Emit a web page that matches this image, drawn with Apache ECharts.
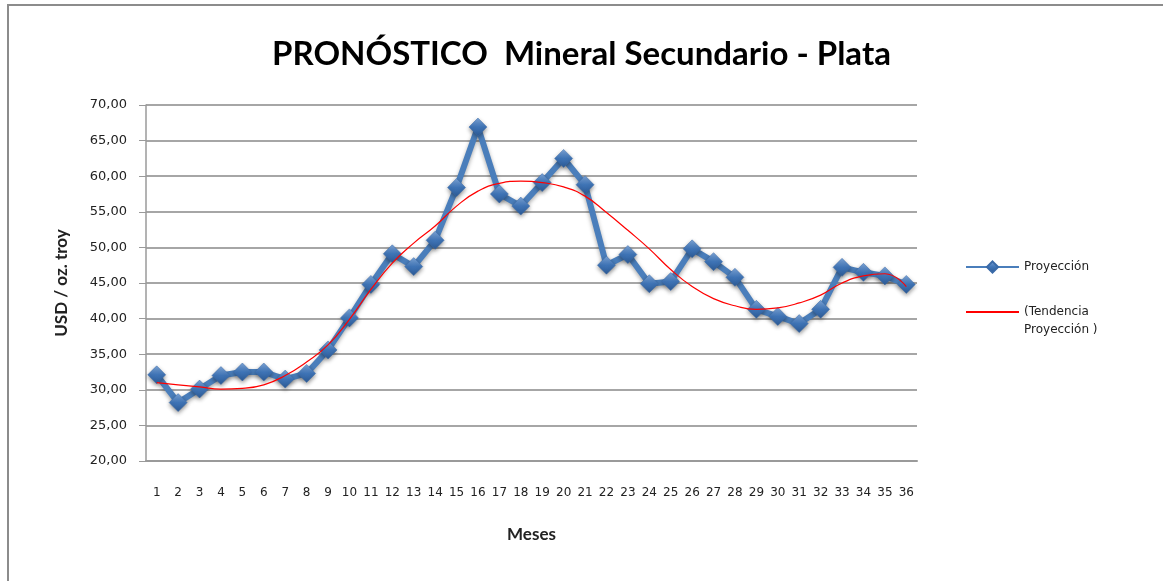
<!DOCTYPE html>
<html>
<head>
<meta charset="utf-8">
<script src="https://cdn.jsdelivr.net/npm/echarts@6/dist/echarts.min.js"></script>
<style>
  html, body { margin: 0; padding: 0; background: #fff; }
  #chart { width: 1163px; height: 581px; }
</style>
</head>
<body>
<div id="chart"></div>
<script>
// meses 1..36
var meses = [];
for (var i = 1; i <= 36; i++) meses.push(String(i));

// USD / oz. troy
var proyeccion = [
  32.1, 28.2, 30.1, 32.0, 32.5, 32.5, 31.5, 32.3, 35.6, 40.1,
  44.8, 49.1, 47.3, 51.0, 58.4, 66.9, 57.5, 55.8, 59.1, 62.5,
  58.8, 47.5, 49.0, 44.9, 45.2, 49.8, 48.0, 45.8, 41.3, 40.3,
  39.3, 41.3, 47.2, 46.5, 46.0, 44.8
];

// línea de tendencia (polinómica)
var tendencia = [
  31.0, 30.7, 30.4, 30.1, 30.2, 30.7, 32.0, 33.9, 36.3, 39.9,
  44.1, 47.8, 50.6, 53.0, 55.8, 57.9, 59.0, 59.3, 59.1, 58.5,
  57.2, 54.9, 52.4, 49.8, 46.9, 44.5, 42.8, 41.8, 41.3, 41.5,
  42.2, 43.3, 45.0, 46.0, 46.3, 44.5
];

var yTicks = { min: 20, max: 70, interval: 5 };

var chart = echarts.init(document.getElementById("chart"));

var legendText = {
  fontFamily: "DejaVu Sans",
  fontSize: 12,
  color: "#222",
  lineHeight: 18
};

chart.setOption({
  animation: false,
  backgroundColor: "#ffffff",
  graphic: [
    {
      type: "polyline",
      shape: { points: [[8, 581], [8, 5], [1163, 5]] },
      style: { stroke: "#8c8c8c", lineWidth: 2, fill: null }
    }
  ],
  title: {
    text: "PRONÓSTICO  Mineral Secundario - Plata",
    left: "center",
    top: 33,
    textStyle: {
      fontFamily: "Lato",
      fontWeight: "bold",
      fontSize: 33,
      color: "#000"
    }
  },
  legend: [
    {
      left: 960,
      top: 253,
      itemWidth: 53,
      itemHeight: 14,
      textStyle: legendText,
      data: ["Proyección"]
    },
    {
      left: 960,
      top: 280,
      itemWidth: 53,
      itemHeight: 14,
      textStyle: legendText,
      // línea en blanco arriba para que el icono quede junto a la primera línea
      formatter: function (name) {
        return " \n" + name;
      },
      data: [{ name: "(Tendencia\nProyección )", itemStyle: { opacity: 0 } }]
    }
  ],
  grid: {
    left: 146,
    right: 246,
    top: 105,
    bottom: 120
  },
  xAxis: {
    type: "category",
    data: meses,
    boundaryGap: true,
    name: "Meses",
    nameLocation: "middle",
    nameGap: 65,
    nameTextStyle: {
      fontFamily: "Lato",
      fontWeight: "bold",
      fontSize: 17,
      color: "#222"
    },
    axisLine: { lineStyle: { color: "#9a9a9a", width: 2 } },
    axisTick: { show: false },
    axisLabel: {
      interval: 0,
      margin: 26,
      fontFamily: "DejaVu Sans",
      fontSize: 12,
      color: "#222"
    }
  },
  yAxis: {
    type: "value",
    min: yTicks.min,
    max: yTicks.max,
    interval: yTicks.interval,
    name: "USD / oz. troy",
    nameLocation: "middle",
    nameGap: 76,
    nameRotate: 90,
    nameTextStyle: {
      fontFamily: "Lato",
      fontWeight: "bold",
      fontSize: 17,
      color: "#222"
    },
    axisLine: { show: true, lineStyle: { color: "#9a9a9a", width: 1.5 } },
    axisTick: { show: true, length: 7, lineStyle: { color: "#9a9a9a" } },
    splitLine: { lineStyle: { color: "#a6a6a6", width: 2 } },
    axisLabel: {
      margin: 19,
      fontFamily: "DejaVu Sans",
      fontSize: 13,
      color: "#222",
      formatter: function (v) {
        return v.toFixed(2).replace(".", ",");
      }
    }
  },
  series: [
    {
      name: "Proyección",
      type: "line",
      data: proyeccion,
      symbol: "diamond",
      symbolSize: 18,
      lineStyle: {
        color: "#4a7ebb",
        width: 6,
        shadowColor: "rgba(0,0,0,0.35)",
        shadowBlur: 4,
        shadowOffsetY: 2
      },
      itemStyle: {
        color: new echarts.graphic.LinearGradient(0, 0, 0, 1, [
          { offset: 0, color: "#7ea6d8" },
          { offset: 0.5, color: "#3f74b6" },
          { offset: 1, color: "#2c5a95" }
        ]),
        borderColor: "#3a6aa8",
        borderWidth: 0.5,
        shadowColor: "rgba(0,0,0,0.4)",
        shadowBlur: 4,
        shadowOffsetY: 2
      },
      z: 2
    },
    {
      name: "(Tendencia\nProyección )",
      type: "line",
      data: tendencia,
      smooth: 0.5,
      symbol: "none",
      lineStyle: { color: "#ff0000", width: 1.2 },
      itemStyle: { color: "#ff0000" },
      z: 3
    }
  ]
});
</script>
</body>
</html>
